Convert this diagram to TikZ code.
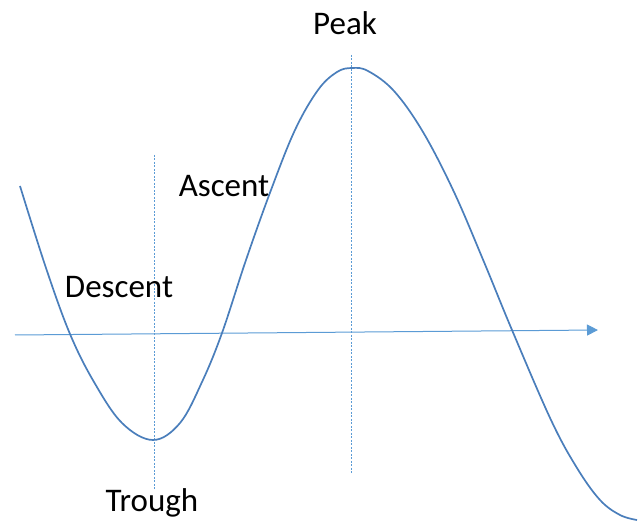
\documentclass[tikz,border=0pt]{standalone}
\usepackage{fontspec}
\setmainfont{Carlito}
\usetikzlibrary{arrows.meta}
\definecolor{wave}{HTML}{4A7EBB}
\definecolor{guide}{HTML}{5B9BD5}
\tikzset{
  label text/.style={font=\fontsize{33}{38}\selectfont, anchor=base, inner sep=0pt},
  guide line/.style={guide, line width=0.7pt, dash pattern=on 2pt off 1.5pt},
}
\begin{document}
\begin{tikzpicture}[x=1pt, y=-1pt]
            \useasboundingbox (0,0) rectangle (641,521);
            % Axis
            \coordinate (axisL) at (15,335);
            \coordinate (axisR) at (598,330);
            \draw[guide, line width=1pt, -{Triangle[length=11pt, width=11pt]}] (axisL) -- (axisR);

            % Guide lines
            \coordinate (troughTop) at (154,155);
            \coordinate (troughBot) at (154,490);
            \coordinate (peakTop) at (351,55);
            \coordinate (peakBot) at (351,473);
            \draw[guide line] (troughTop) -- (troughBot);
            \draw[guide line] (peakTop) -- (peakBot);

            % Wave
            \draw[wave, line width=1.7pt] plot[smooth, tension=0.6] coordinates {
              (20,186) (46,268) (70,334) (94,382) (122,423) (153,440)
              (180,423) (202,382) (222,333) (246,260) (271,190)
              (295,130) (318,90) (337,72) (352,68) (368,71) (394,91) (423,132)
              (454,192) (484,262) (512,330) (551,420) (577,468) (600,500)
              (620,515) (637,520)};

            % Labels
            \node[label text] (peak) at (345,35) {Peak};
            \node[label text] (ascent) at (224,197) {Ascent};
            \node[label text] (descent) at (119,298) {Descent};
            \node[label text] (trough) at (152,512) {Trough};
\end{tikzpicture}
\end{document}
